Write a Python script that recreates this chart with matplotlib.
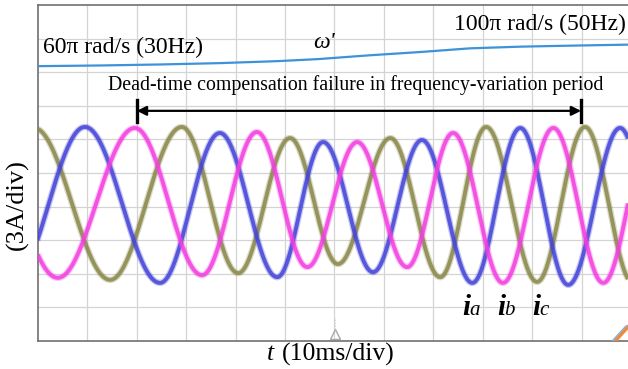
import matplotlib
matplotlib.use("Agg")
import matplotlib.pyplot as plt
import numpy as np

# ---- data (in divisions: x 10ms/div, y 3A/div) ----
blue_x = [-0.53, 0.95, 2.47, 3.68, 4.84, 5.77, 6.78, 7.77, 8.79, 9.76, 10.73, 11.78, 12.75]
blue_y = [1.73, 6.37, 1.73, 6.19, 1.90, 5.92, 2.05, 5.98, 1.73, 6.34, 1.67, 6.34, 1.67]

pink_x = [-1.17, 0.40, 1.96, 3.32, 4.43, 5.45, 6.46, 7.47, 8.40, 9.41, 10.43, 11.44, 12.43]
pink_y = [6.34, 1.88, 6.34, 1.96, 6.22, 2.20, 5.92, 2.20, 6.19, 1.73, 6.34, 1.73, 6.34]

olive_x = [-1.58, -0.08, 1.46, 2.91, 4.05, 5.10, 6.07, 7.13, 8.14, 9.07, 10.10, 11.07, 12.04]
olive_y = [1.82, 6.34, 1.82, 6.37, 2.02, 6.04, 2.29, 6.04, 1.90, 6.37, 1.76, 6.37, 1.73]

omega_x = [0.0, 1.26, 2.47, 3.68, 4.86, 5.67, 6.68, 7.73, 8.74, 9.76, 10.77, 11.94]
omega_y = [8.18, 8.20, 8.23, 8.27, 8.33, 8.39, 8.50, 8.60, 8.71, 8.76, 8.79, 8.82]

XMAX = 11.94
YMAX = 10.0


def trace_through_extrema(ex, ey, n=120):
    """Half-cosine segments joining consecutive read-off extrema."""
    xs, ys = [], []
    for i in range(len(ex) - 1):
        t = np.linspace(0, 1, n, endpoint=False)
        x0, x1 = ex[i], ex[i + 1]
        y0, y1 = ey[i], ey[i + 1]
        xs.append(x0 + (x1 - x0) * t)
        ys.append((y0 + y1) / 2 + (y0 - y1) / 2 * np.cos(np.pi * t))
    xs.append([ex[-1]])
    ys.append([ey[-1]])
    return np.concatenate(xs), np.concatenate(ys)


fig = plt.figure(figsize=(6.28, 3.69), dpi=100)
L, B, T = 38 / 628, (369 - 341) / 369, (369 - 5) / 369
ax = fig.add_axes([L, B, 1.0 - L, T - B])
ax.set_xlim(0, XMAX)
ax.set_ylim(0, YMAX)

# grid
for gx in range(1, 12):
    ax.axvline(gx, color="#d4d4d4", lw=0.9, zorder=0)
for gy in range(1, 10):
    ax.axhline(gy, color="#d4d4d4", lw=0.9, zorder=0)

for s in ["left", "bottom", "top"]:
    ax.spines[s].set_color("#707070")
    ax.spines[s].set_linewidth(1.2)
ax.spines["right"].set_visible(False)
ax.set_xticks([])
ax.set_yticks([])

# currents: faint noise band + core trace
for ex, ey, col in [(olive_x, olive_y, "#8a884a"),
                    (blue_x, blue_y, "#4444d8"),
                    (pink_x, pink_y, "#f23ee0")]:
    xs, ys = trace_through_extrema(ex, ey)
    ax.plot(xs, ys, color=col, lw=4.6, alpha=0.3, solid_capstyle="butt", zorder=3)
    ax.plot(xs, ys, color=col, lw=2.8, alpha=0.85, solid_capstyle="butt", zorder=3)

# omega estimate
ax.plot(omega_x, omega_y, color="#3d92da", lw=1.6, zorder=3)

serif = "Liberation Serif"
ax.text(0.1, 8.74, "60\u03c0 rad/s (30Hz)", family=serif, fontsize=17,
        ha="left", va="center", zorder=5)
ax.text(11.9, 9.42, "100\u03c0 rad/s (50Hz)", family=serif, fontsize=17,
        ha="right", va="center", zorder=5)
ax.text(5.78, 8.88, "\u03c9'", family=serif, fontsize=17, style="italic",
        ha="center", va="center", zorder=5)
ax.text(6.42, 7.62, "Dead-time compensation failure in frequency-variation period",
        family=serif, fontsize=14.3, ha="center", va="center", zorder=5)

# arrow with end bars
x_a, x_b, y_arr = 2.0, 10.99, 6.85
ax.annotate("", xy=(x_a, y_arr), xytext=(x_b, y_arr),
            arrowprops=dict(arrowstyle="<|-|>", color="black", lw=1.6,
                            mutation_scale=14, shrinkA=0, shrinkB=0), zorder=6)
ax.plot([x_a, x_a], [y_arr - 0.32, y_arr + 0.32], color="black", lw=2.4, zorder=6)
ax.plot([x_b, x_b], [y_arr - 0.32, y_arr + 0.32], color="black", lw=2.4, zorder=6)

# phase labels
for xi, sub in [(8.58, "a"), (9.29, "b"), (10.0, "c")]:
    ax.text(xi, 0.78, "i", family=serif, fontsize=21, style="italic",
            weight="bold", ha="left", va="baseline", zorder=5)
    ax.text(xi + 0.15, 0.78, sub, family=serif, fontsize=15, style="italic",
            ha="left", va="baseline", zorder=5)

# trigger marker
ax.plot([6.01], [0.22], marker="^", ms=7, mfc="none", mec="#a8a8a8", mew=1.0,
        clip_on=False, zorder=4)
ax.plot([6.01, 6.01], [0.35, 0.7], color="#c8c8c8", lw=0.8, ls=":", zorder=4)

# cursor marker bottom-right
ax.plot([11.68, 11.94], [0.0, 0.42], color="#f08a3a", lw=2.5, zorder=4)
ax.plot([11.62, 11.90], [0.0, 0.45], color="#7fb0e0", lw=1.0, zorder=4)

# axis labels
fig.text(17 / 628, 1 - 205 / 369, "(3A/div)", family=serif, fontsize=19,
         rotation=90, ha="center", va="center")
fig.text(267 / 628, 1 - 354 / 369, "t", family=serif, fontsize=18.5,
         style="italic", ha="left", va="center")
fig.text(282 / 628, 1 - 354 / 369, "(10ms/div)", family=serif, fontsize=18.5,
         ha="left", va="center")

fig.savefig("out.png", dpi=100)
